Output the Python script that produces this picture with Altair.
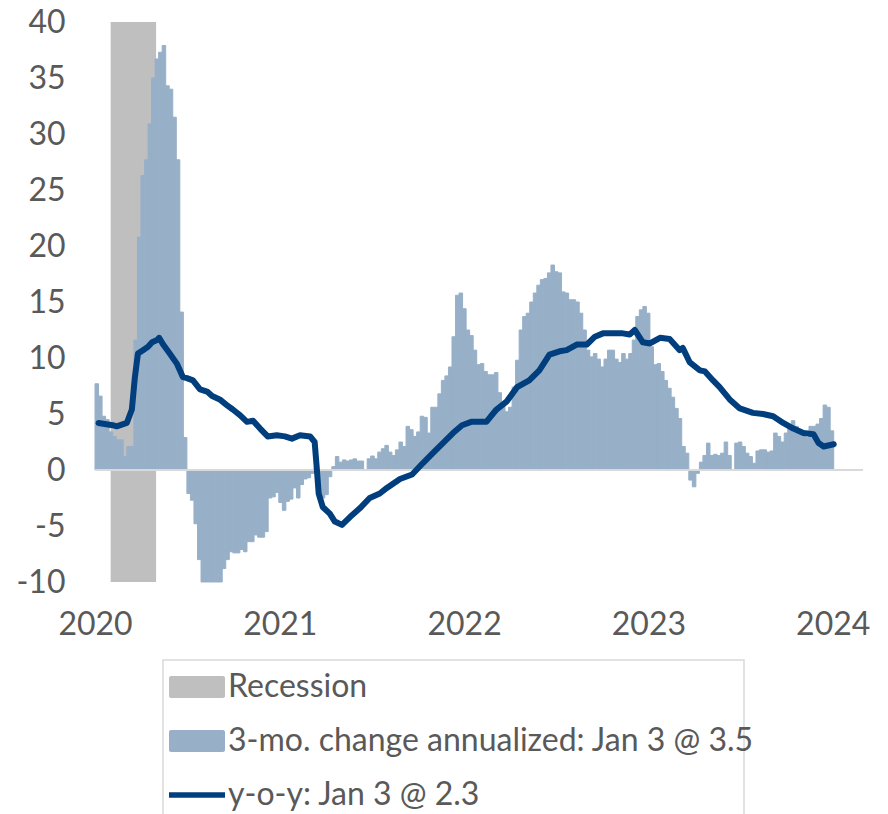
import altair as alt
import pandas as pd

# ---------------- data ----------------
REC_LABEL = "Recession"
BAR_LABEL = "3-mo. change annualized: Jan 3 @ 3.5"
LINE_LABEL = "y-o-y: Jan 3 @ 2.3"
SERIES = [REC_LABEL, BAR_LABEL, LINE_LABEL]
COLORS = ["#bfbfbf", "#97b0c8", "#003e7e"]

recession_start = ["2020-02-01"]
recession_end = ["2020-05-01"]

# weekly 3-mo. change annualized, weeks ending 2020-01-08 ... 2024-01-03
bar_first_week = "2020-01-08"
bar_values = [
    7.7, 6.6, 4.8, 4.5, 3.4, 3.0, 2.7, 2.7, 1.2, 2.1, 2.1,
    11.6, 20.8, 26.3, 27.7, 30.9, 35.0, 36.7, 37.3, 37.9, 34.3, 34.0, 31.5, 27.7, 14.1, 2.9,
    -2.1, -2.7, -4.8, -8.0, -10.0, -10.0, -10.0, -10.0, -10.0, -10.0,
    -8.8, -8.0, -7.3, -7.4, -7.4, -7.1, -7.3, -6.4, -6.4, -5.8, -6.0, -6.0,
    -5.5, -2.5, -2.4, -2.0, -2.9, -3.6, -2.8, -2.6, -1.6, -2.5, -1.3, -0.8, -0.7, -0.3,
    0.2, -1.5, -2.5, -2.2, -0.6, 0.3,
    1.2, 0.7, 0.9, 0.8, 0.9, 1.0, 0.8, 0.8, 0.0, 1.0, 1.25, 1.0,
    1.6, 1.9, 2.2, 1.6, 1.3, 1.8, 2.5, 2.1, 3.9, 3.6, 3.0, 3.4,
    4.8, 4.7, 3.3, 5.6, 5.6, 6.8, 8.0, 8.4, 9.2, 11.9, 15.6, 15.8,
    14.4, 12.5, 12.0, 10.7, 9.4, 9.5, 8.8, 8.5, 8.5, 8.7, 6.9, 6.0, 5.2, 5.6,
    7.4, 9.8, 12.5, 13.7, 14.0, 15.0, 15.8, 16.5, 17.0, 17.1, 17.6, 18.3, 17.7, 17.6,
    15.9, 15.8, 15.2, 15.2, 15.0, 14.0, 12.5, 10.7, 10.1, 10.4, 9.9, 9.2, 9.9, 10.7,
    10.7, 9.9, 9.6, 10.4, 9.9, 10.4, 11.6, 13.7, 14.3, 14.6, 14.0, 11.0, 9.4, 9.5,
    8.8, 8.0, 7.3, 6.5, 5.5, 4.6, 2.1, 1.5, -0.9, -1.5, -0.3, 0.7, 1.3, 2.4,
    1.3, 1.4, 1.3, 1.5, 2.5, 1.3, 0.0, 2.4, 2.5, 2.1, 1.5, 1.2, 0.6, 1.7,
    1.8, 1.8, 1.6, 1.7, 3.3, 3.0, 2.5, 3.3, 3.8, 4.4, 3.9, 3.6, 3.3, 2.9,
    3.9, 3.9, 4.1, 4.6, 5.8, 5.6, 3.5,
]

# y-o-y line
line_dates = [
    "2020-01-08", "2020-02-05", "2020-02-13", "2020-03-04", "2020-03-14", "2020-03-20",
    "2020-03-26", "2020-04-05", "2020-04-15", "2020-04-23", "2020-05-03", "2020-05-07",
    "2020-05-15", "2020-05-28", "2020-06-11", "2020-06-23", "2020-07-01", "2020-07-13",
    "2020-07-27", "2020-08-10", "2020-08-20", "2020-09-04", "2020-09-18", "2020-09-30",
    "2020-10-14", "2020-10-28", "2020-11-09", "2020-11-23", "2020-12-08", "2020-12-26",
    "2021-01-11", "2021-01-25", "2021-02-10", "2021-03-02", "2021-03-11", "2021-03-15",
    "2021-03-19", "2021-03-27", "2021-04-10", "2021-04-20", "2021-05-04", "2021-05-20",
    "2021-06-09", "2021-06-28", "2021-07-18", "2021-08-01", "2021-08-27", "2021-09-20",
    "2021-10-11", "2021-10-31", "2021-11-20", "2021-12-10", "2021-12-28",
    "2022-01-15", "2022-02-14", "2022-03-06", "2022-03-26", "2022-04-16", "2022-05-10",
    "2022-05-30", "2022-06-19", "2022-07-09", "2022-07-23", "2022-08-12", "2022-09-01",
    "2022-09-17", "2022-10-03", "2022-10-23", "2022-11-11", "2022-11-25", "2022-12-05",
    "2022-12-21",
    "2023-01-04", "2023-01-24", "2023-02-12", "2023-03-04", "2023-03-10", "2023-03-24",
    "2023-04-13", "2023-04-23", "2023-05-09", "2023-05-22", "2023-06-11", "2023-07-01",
    "2023-07-27", "2023-08-16", "2023-09-05", "2023-09-25", "2023-10-15", "2023-11-04",
    "2023-11-24", "2023-12-04", "2023-12-14", "2024-01-03",
]
line_values = [
    4.2, 4.0, 3.9, 4.2, 5.4, 8.3, 10.4, 10.7, 11.0, 11.4,
    11.6, 11.8, 11.2, 10.4, 9.5, 8.3, 8.2, 8.0, 7.2, 7.0,
    6.6, 6.3, 5.8, 5.4, 4.9, 4.3, 4.4, 3.7, 3.0, 3.1,
    3.0, 2.8, 3.1, 3.0, 2.5, 0.3, -2.1, -3.3, -3.9, -4.6,
    -4.9, -4.2, -3.4, -2.5, -2.1, -1.6, -0.8, -0.4, 0.6, 1.5,
    2.4, 3.3, 4.0,
    4.3, 4.3, 5.4, 6.1, 7.4, 8.0, 8.9, 10.3, 10.6, 10.7,
    11.2, 11.2, 11.9, 12.2, 12.2, 12.2, 12.1, 12.5, 11.4,
    11.3, 11.8, 11.7, 10.7, 10.9, 9.6, 8.9, 8.8, 8.0, 7.4,
    6.3, 5.5, 5.1, 5.0, 4.8, 4.2, 3.7, 3.3, 3.2, 2.4, 2.1, 2.3,
]

y_ticks = [-10, -5, 0, 5, 10, 15, 20, 25, 30, 35, 40]
x_years = [2020, 2021, 2022, 2023, 2024]

# ---------------- tables ----------------
bar_end = pd.date_range(bar_first_week, periods=len(bar_values), freq="7D")
bars_df = pd.DataFrame({
    "start": (bar_end - pd.Timedelta(days=7)).strftime("%Y-%m-%d"),
    "end": bar_end.strftime("%Y-%m-%d"),
    "value": bar_values,
})
rec_df = pd.DataFrame({"start": recession_start, "end": recession_end})
line_df = pd.DataFrame({"date": line_dates, "value": line_values})

# ---------------- styling ----------------
FONT = "Lato"
TEXT = "#595959"
W, H = 768, 560
AX_FS = 32
LEG_FS = 32

x_scale = alt.Scale(
    type="utc",
    domain=[alt.DateTime(year=2020, month=1, date=1, utc=True),
            alt.DateTime(year=2024, month=3, date=1, utc=True)],
)
x_axis = alt.Axis(
    values=[alt.DateTime(year=y, month=1, date=1, utc=True) for y in x_years],
    format="%Y", title=None, grid=False, domain=False, ticks=False, tickSize=0,
    labelFont=FONT, labelFontSize=AX_FS, labelColor=TEXT, labelPadding=27,
    labelFlush=False, labelOverlap=False, labelBound=False,
)
y_scale = alt.Scale(domain=[-10, 40], nice=False, zero=False)
y_axis = alt.Axis(
    values=y_ticks, title=None, grid=False, domain=False, ticks=False, tickSize=0,
    labelFont=FONT, labelFontSize=AX_FS, labelColor=TEXT, labelPadding=30,
    labelExpr="'' + datum.value",
)

# ---------------- data layers ----------------
rec = alt.Chart(rec_df).mark_rect(color=COLORS[0]).encode(
    x=alt.X("start:T", scale=x_scale, axis=x_axis),
    x2="end:T",
)

bars = alt.Chart(bars_df).mark_rect(color=COLORS[1], stroke=COLORS[1], strokeWidth=1).encode(
    x=alt.X("start:T", scale=x_scale, axis=x_axis),
    x2="end:T",
    y=alt.Y("value:Q", scale=y_scale, axis=y_axis),
    y2=alt.datum(0),
)

zero = alt.Chart(alt.Data(values=[{"v": 0}])).mark_rule(color="#d9d9d9", strokeWidth=2).encode(
    y=alt.Y("v:Q", scale=y_scale, axis=y_axis),
)

line = alt.Chart(line_df).mark_line(
    color=COLORS[2], strokeWidth=6, strokeJoin="round", strokeCap="round"
).encode(
    x=alt.X("date:T", scale=x_scale, axis=x_axis),
    y=alt.Y("value:Q", scale=y_scale, axis=y_axis),
)

# ---------------- legend (boxed, below the plot) ----------------
leg_df = pd.DataFrame({"label": SERIES})
LEG_LEFT, LEG_RIGHT, LEG_TOP = 68, 649, 638
SW_X1, SW_X2, ROW_H, SW_H = 74, 130, 54, 22
TXT_X = 133
row_c = [LEG_TOP + 27 + ROW_H * i for i in range(3)]

legend_layers = [
    alt.Chart(leg_df.iloc[:1]).mark_rect(fill="white", stroke="#d9d9d9", strokeWidth=1.5).encode(
        x=alt.value(LEG_LEFT), x2=alt.value(LEG_RIGHT), y=alt.value(LEG_TOP), y2=alt.value(LEG_TOP + 3 * ROW_H + 10)
    ),
    alt.Chart(leg_df.iloc[:1]).mark_rect(color=COLORS[0], cornerRadius=2).encode(
        x=alt.value(SW_X1), x2=alt.value(SW_X2),
        y=alt.value(row_c[0] - SW_H / 2), y2=alt.value(row_c[0] + SW_H / 2)
    ),
    alt.Chart(leg_df.iloc[1:2]).mark_rect(color=COLORS[1], cornerRadius=2).encode(
        x=alt.value(SW_X1), x2=alt.value(SW_X2),
        y=alt.value(row_c[1] - SW_H / 2), y2=alt.value(row_c[1] + SW_H / 2)
    ),
    alt.Chart(leg_df.iloc[2:3]).mark_rule(color=COLORS[2], strokeWidth=5.5).encode(
        x=alt.value(SW_X1), x2=alt.value(SW_X2), y=alt.value(row_c[2])
    ),
]
for i in range(3):
    legend_layers.append(
        alt.Chart(leg_df.iloc[i:i + 1]).mark_text(
            align="left", baseline="middle", font=FONT, fontSize=LEG_FS, color=TEXT
        ).encode(text="label:N", x=alt.value(TXT_X), y=alt.value(row_c[i]))
    )

chart = alt.layer(rec, bars, zero, line, *legend_layers).properties(
    width=W, height=H,
    autosize=alt.AutoSizeParams(type="none"),
    padding={"left": 95, "top": 22, "right": 25, "bottom": 232},
    background="white",
).configure_view(stroke=None)

chart.save("out.html", embed_options={"renderer": "svg", "actions": False})
